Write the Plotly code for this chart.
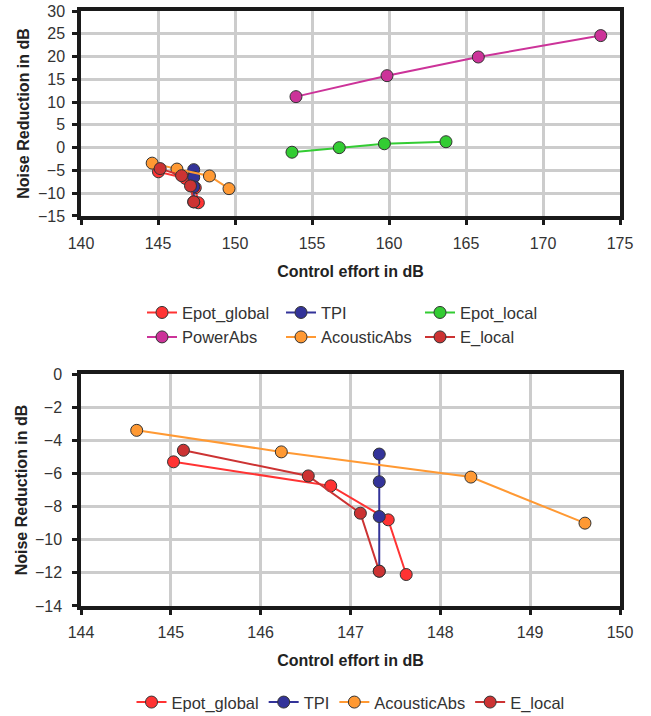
import plotly.graph_objects as go

# ---- data ----
epot_global_x = [145.03, 146.78, 147.42, 147.62]
epot_global_y = [-5.3, -6.75, -8.8, -12.1]
tpi_x = [147.32, 147.32, 147.32, 147.32]
tpi_y = [-4.83, -6.5, -8.6, -11.9]
epot_local_x = [153.7, 156.77, 159.7, 163.7]
epot_local_y = [-1.0, 0.0, 0.85, 1.3]
powerabs_x = [153.96, 159.87, 165.8, 173.75]
powerabs_y = [11.2, 15.8, 19.9, 24.6]
acousticabs_x = [144.62, 146.23, 148.34, 149.61]
acousticabs_y = [-3.4, -4.7, -6.22, -9.0]
e_local_x = [145.14, 146.53, 147.11, 147.32]
e_local_y = [-4.6, -6.15, -8.4, -11.9]

top_x_ticks = [140, 145, 150, 155, 160, 165, 170, 175]
top_y_ticks = [-15, -10, -5, 0, 5, 10, 15, 20, 25, 30]
bot_x_ticks = [144, 145, 146, 147, 148, 149, 150]
bot_y_ticks = [0, -2, -4, -6, -8, -10, -12, -14]

COL = {
    "Epot_global": "#FF3333",
    "TPI": "#333399",
    "Epot_local": "#33CC33",
    "PowerAbs": "#CC3399",
    "AcousticAbs": "#FF9933",
    "E_local": "#CC3333",
}

FONT = "Liberation Sans, Arial, sans-serif"

series_top = [
    ("Epot_global", epot_global_x, epot_global_y),
    ("TPI", tpi_x, tpi_y),
    ("Epot_local", epot_local_x, epot_local_y),
    ("PowerAbs", powerabs_x, powerabs_y),
    ("AcousticAbs", acousticabs_x, acousticabs_y),
    ("E_local", e_local_x, e_local_y),
]
series_bot = [
    ("Epot_global", epot_global_x, epot_global_y),
    ("TPI", tpi_x, tpi_y),
    ("AcousticAbs", acousticabs_x, acousticabs_y),
    ("E_local", e_local_x, e_local_y),
]

fig = go.Figure()


def add(name, xs, ys, xa, ya, leg):
    fig.add_trace(go.Scatter(
        x=xs, y=ys, name=name, mode="lines+markers",
        xaxis=xa, yaxis=ya, legend=leg,
        line=dict(color=COL[name], width=2),
        marker=dict(color=COL[name], size=12,
                    line=dict(color="#333333", width=1)),
    ))


for n, xs, ys in series_top:
    add(n, xs, ys, "x", "y", "legend")
for n, xs, ys in series_bot:
    add(n, xs, ys, "x2", "y2", "legend2")

axis_common = dict(
    showline=True, linecolor="#1a1a1a", linewidth=3.5, mirror=True,
    showgrid=True, gridcolor="#CCCCCC", gridwidth=2.5,
    ticks="outside", ticklen=5, tickwidth=2.5, tickcolor="#1a1a1a",
    zeroline=False, automargin=False,
    tickfont=dict(family=FONT, size=16, color="#333333"),
)
title_font = dict(family=FONT, size=16, color="#222222", weight="bold")

fig.update_layout(
    width=651, height=716,
    margin=dict(l=81, r=31, t=11, b=110, autoexpand=False),
    paper_bgcolor="white", plot_bgcolor="white",
    font=dict(family=FONT, color="#333333"),
    xaxis=dict(domain=[0, 1], anchor="y", range=[140, 175], tickvals=top_x_ticks,
               title=dict(text="Control effort in dB", font=title_font, standoff=16),
               ticklabelstandoff=5, **axis_common),
    yaxis=dict(domain=[0.6555, 1], anchor="x", range=[-15, 30], tickvals=top_y_ticks,
               title=dict(text="Noise Reduction in dB", font=title_font, standoff=5),
               ticklabelstandoff=4, **axis_common),
    xaxis2=dict(domain=[0, 1], anchor="y2", range=[144, 150], tickvals=bot_x_ticks,
                title=dict(text="Control effort in dB", font=title_font, standoff=16),
                ticklabelstandoff=4, **axis_common),
    yaxis2=dict(domain=[0, 0.3899], anchor="x2", range=[-14, 0], tickvals=bot_y_ticks,
                title=dict(text="Noise Reduction in dB", font=title_font, standoff=4),
                ticklabelstandoff=7, **axis_common),
    legend=dict(orientation="h", x=0.5, xanchor="center", y=0.5223, yanchor="top",
                entrywidth=94, entrywidthmode="pixels",
                font=dict(family=FONT, size=16.5, color="#333333"),
                bgcolor="rgba(0,0,0,0)", tracegroupgap=0),
    legend2=dict(orientation="h", x=0.5, xanchor="center", y=-0.1325, yanchor="top",
                 font=dict(family=FONT, size=16.5, color="#333333"),
                 bgcolor="rgba(0,0,0,0)"),
)

fig.write_html(
    "out.html",
    config={"displayModeBar": False},
    post_script="document.body.style.margin='0';document.body.style.overflow='hidden';",
)
